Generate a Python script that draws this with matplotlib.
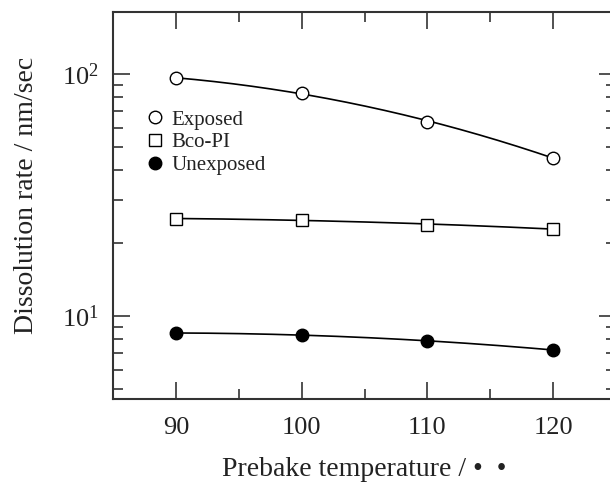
import numpy as np
import matplotlib
matplotlib.use("Agg")
import matplotlib.pyplot as plt
from matplotlib.ticker import LogLocator, MultipleLocator, NullFormatter

plt.rcParams['font.family'] = ['Liberation Serif', 'DejaVu Serif']
plt.rcParams['mathtext.fontset'] = 'stix'

temps = [90, 100, 110, 120]
exposed = [96, 83.4, 63.4, 45.0]
bco_pi = [25.2, 25.0, 23.8, 22.9]
unexposed = [8.5, 8.35, 7.88, 7.24]

fig = plt.figure(figsize=(6.1, 4.82), dpi=100)
ax = fig.add_axes([113/610, 83/482, 503/610, 387/482])
ax.set_yscale('log')

xs = np.linspace(90, 120, 200)
for vals, mk, fc, lab in [(exposed, 'o', 'white', 'Exposed'),
                          (bco_pi, 's', 'white', 'Bco-PI'),
                          (unexposed, 'o', 'black', 'Unexposed')]:
    coef = np.polyfit(temps, np.log10(vals), 2)
    ax.plot(xs, 10**np.polyval(coef, xs), color='black', lw=1.2, zorder=2)
    ax.plot(temps, vals, linestyle='none', marker=mk, ms=9 if mk == 'o' else 8.5,
            mfc=fc, mec='black', mew=1.0, label=lab, zorder=3)

ax.set_xlim(85, 125)
ax.set_ylim(4.54, 180)
ax.xaxis.set_major_locator(MultipleLocator(10))
ax.xaxis.set_minor_locator(MultipleLocator(5))
ax.yaxis.set_major_locator(LogLocator(base=10))
ax.yaxis.set_minor_locator(LogLocator(base=10, subs=np.arange(2, 10)))
ax.yaxis.set_minor_formatter(NullFormatter())

ax.tick_params(which='both', direction='in', top=True, right=True, width=1.2, colors='#333333')
ax.tick_params(which='major', length=12, labelsize=19, pad=13, labelcolor='#222222')
ax.tick_params(axis='y', which='major', pad=10)
ax.tick_params(which='minor', length=7)
for s in ax.spines.values():
    s.set_linewidth(1.5)
    s.set_color('#333333')

ax.set_ylabel('Dissolution rate / nm/sec', fontsize=20, color='#222222')
ax.yaxis.set_label_coords(-0.148, 0.525)
ax.set_xlabel('Prebake temperature / \u2022  \u2022', fontsize=20, color='#222222', labelpad=13)

ax.legend(loc='upper left', bbox_to_anchor=(0.046, 0.768), frameon=False, fontsize=15,
          handletextpad=0.3, labelspacing=0.15, borderaxespad=0, handlelength=1.0,
          labelcolor='#222222')

fig.savefig('out.png', dpi=100)
